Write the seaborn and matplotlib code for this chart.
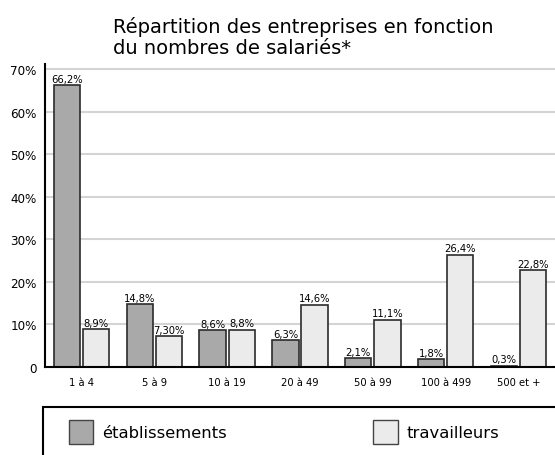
import seaborn as sns
import matplotlib.pyplot as plt
import matplotlib.patches as mpatches
import pandas as pd
import numpy as np

categories = ['1 à 4', '5 à 9', '10 à 19', '20 à 49', '50 à 99', '100 à 499', '500 et +']
etablissements = [66.2, 14.8, 8.6, 6.3, 2.1, 1.8, 0.3]
travailleurs = [8.9, 7.3, 8.8, 14.6, 11.1, 26.4, 22.8]
labels_etab = ['66,2%', '14,8%', '8,6%', '6,3%', '2,1%', '1,8%', '0,3%']
labels_trav = ['8,9%', '7,30%', '8,8%', '14,6%', '11,1%', '26,4%', '22,8%']
series = ['établissements', 'travailleurs']
yticks = [0, 10, 20, 30, 40, 50, 60, 70]
ytick_labels = ['0', '10%', '20%', '30%', '40%', '50%', '60%', '70%']

df = pd.DataFrame({
    'cat': categories * 2,
    'val': etablissements + travailleurs,
    'serie': [series[0]] * 7 + [series[1]] * 7,
})

sns.set_style('white')
plt.rcParams['font.family'] = ['DejaVu Sans']
plt.rcParams['text.color'] = 'black'
plt.rcParams['xtick.color'] = 'black'
plt.rcParams['ytick.color'] = 'black'

colors = {'établissements': '#a9a9a9', 'travailleurs': '#ebebeb'}
cond = dict(family='DejaVu Sans', stretch='condensed')

fig = plt.figure(figsize=(5.55, 4.56), dpi=100)
ax = fig.add_axes([45 / 555, 1 - 368 / 456, 1 - 45 / 555, (368 - 65) / 456])

sns.barplot(data=df, x='cat', y='val', hue='serie', palette=colors,
            width=0.8, gap=0.1, edgecolor='#2b2b2b', linewidth=1.2,
            legend=False, ax=ax)

for cont, labs in zip(ax.containers, [labels_etab, labels_trav]):
    ax.bar_label(cont, labels=labs, padding=1, fontsize=8, **cond)

ax.set_xlim(-0.5, 6.5)
ax.set_ylim(0, 71.2)
ax.set_yticks(yticks)
ax.set_yticklabels(ytick_labels, fontsize=9.5, **cond)
ax.set_xticks(range(7))
ax.set_xticklabels(categories, fontsize=8, **cond)
ax.set_xticks(np.arange(0.5, 6.5, 1), minor=True)
ax.tick_params(axis='x', which='major', length=0, pad=7)
ax.tick_params(axis='x', which='minor', direction='in', length=7, width=2, color='black')
ax.tick_params(axis='y', length=0, pad=6)
ax.set_xlabel('')
ax.set_ylabel('')
ax.yaxis.grid(True, color='#d4d4d4', linewidth=1.5)
ax.set_axisbelow(True)
for s in ['top', 'right']:
    ax.spines[s].set_visible(False)
ax.spines['left'].set_color('black')
ax.spines['left'].set_linewidth(1.5)
ax.spines['bottom'].set_color('black')
ax.spines['bottom'].set_linewidth(1.5)

fig.text(113 / 555, 1 - 17 / 456, 'Répartition des entreprises en fonction\ndu nombres de salariés*',
         ha='left', va='top', fontsize=14, linespacing=1.15)

# legend box
frame = mpatches.Rectangle((43 / 555, -0.02), 1.0, (456 - 408) / 456 + 0.02,
                           transform=fig.transFigure, fill=False,
                           edgecolor='black', linewidth=1.5)
fig.patches.append(frame)
handles = [mpatches.Patch(facecolor=colors[s], edgecolor='#444444', linewidth=1, label=s) for s in series]
fig.legend(handles=handles, loc='center left', bbox_to_anchor=(54 / 555, 1 - 433 / 456),
           ncol=2, frameon=False, fontsize=11.8, handlelength=1.5, handleheight=1.9,
           handletextpad=0.55, columnspacing=8.9)

fig.savefig('out.png', dpi=100)
